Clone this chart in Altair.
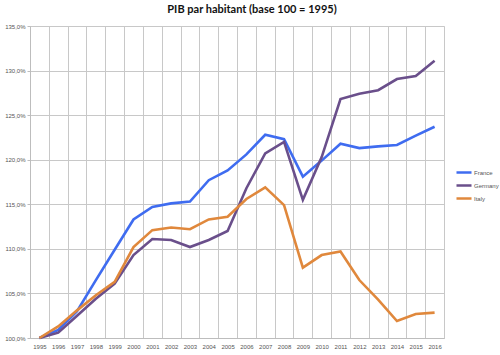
import altair as alt
import pandas as pd

years = [str(y) for y in range(1995, 2017)]
france = [100, 100.9, 103.0, 106.5, 109.9, 113.3, 114.7, 115.1, 115.3, 117.7, 118.8,
          120.6, 122.8, 122.3, 118.1, 119.9, 121.8, 121.3, 121.5, 121.65, 122.7, 123.7]
germany = [100, 100.6, 102.5, 104.4, 106.1, 109.3, 111.1, 111.0, 110.2, 111.0, 112.0,
           116.8, 120.7, 122.0, 115.5, 120.3, 126.8, 127.4, 127.8, 129.05, 129.4, 131.1]
italy = [100, 101.3, 103.1, 104.8, 106.3, 110.2, 112.1, 112.4, 112.2, 113.3, 113.6,
         115.6, 116.9, 114.9, 107.9, 109.3, 109.7, 106.5, 104.3, 101.9, 102.7, 102.85]
countries = ["France", "Germany", "Italy"]
colors = ["#3f6cf0", "#6a4f8b", "#e0883c"]
y_ticks = [100, 105, 110, 115, 120, 125, 130, 135]

rows = []
for name, vals in zip(countries, [france, germany, italy]):
    for yr, v in zip(years, vals):
        rows.append({"year": yr, "country": name, "value": v})
df = pd.DataFrame(rows)

FONT = "Liberation Sans"

chart = alt.Chart(df).mark_line(strokeWidth=2.6).encode(
    x=alt.X("year:O", title=None,
            scale=alt.Scale(type="band", paddingInner=0, paddingOuter=0),
            bandPosition=0.5,
            axis=alt.Axis(tickBand="extent", grid=True, ticks=False, labelAngle=0,
                          labelPadding=5, labelFontSize=6,
                          labelColor="#555555", labelFont=FONT,
                          domainColor="#bdbdbd", gridColor="#c8c8c8")),
    y=alt.Y("value:Q", title=None,
            scale=alt.Scale(domain=[100, 135], nice=False, zero=False),
            axis=alt.Axis(values=y_ticks,
                          labelExpr="replace(format(datum.value, '.1f'), '.', ',') + '%'",
                          labelFontSize=6, labelColor="#555555", labelFont=FONT,
                          labelPadding=2, tickSize=3, tickColor="#bdbdbd",
                          domainColor="#bdbdbd", gridColor="#c8c8c8")),
    color=alt.Color("country:N", title=None,
                    scale=alt.Scale(domain=countries, range=colors),
                    legend=alt.Legend(orient="none", legendX=425, legendY=141,
                                      symbolType="stroke", symbolSize=225,
                                      symbolStrokeWidth=2.6, clipHeight=11,
                                      rowPadding=2, labelOffset=1, padding=0,
                                      labelFontSize=6, labelColor="#555555",
                                      labelFont=FONT)),
).properties(
    width=414,
    height=312,
    autosize=alt.AutoSizeParams(type="none"),
    padding={"left": 30, "top": 26, "right": 56, "bottom": 17},
    title=alt.TitleParams("PIB par habitant (base 100 = 1995)", fontSize=11,
                          fontWeight="bold", font="Lato", color="#111111",
                          offset=8, dx=15),
).configure_view(stroke="#c8c8c8").configure(background="white")

chart.save("out.html", embed_options={"renderer": "svg", "actions": False})
